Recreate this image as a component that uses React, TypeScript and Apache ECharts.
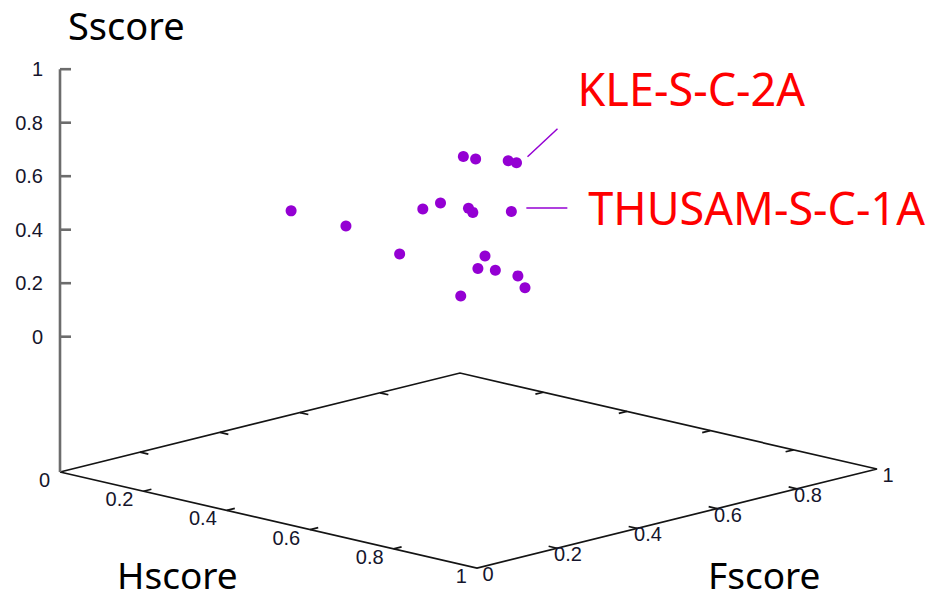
import React, { useEffect, useRef } from "react";
import * as echarts from "echarts";

// ---- data (3D: Hscore, Fscore, Sscore) ----
const POINT_H = [0.30, 0.35, 0.45, 0.40, 0.50, 0.55, 0.45, 0.50, 0.52, 0.60, 0.50, 0.55, 0.60, 0.70, 0.55, 0.70, 0.60, 0.75];
const POINT_F = [0.265, 0.35, 0.38, 0.49, 0.43, 0.435, 0.57, 0.50, 0.49, 0.495, 0.62, 0.555, 0.437, 0.315, 0.515, 0.415, 0.537, 0.22];
const POINT_S = [0.48, 0.41, 0.33, 0.44, 0.52, 0.71, 0.615, 0.475, 0.47, 0.69, 0.60, 0.46, 0.355, 0.39, 0.255, 0.325, 0.20, 0.34];
const TICKS = [0, 0.2, 0.4, 0.6, 0.8, 1];
const TICK_LABELS = ["0", "0.2", "0.4", "0.6", "0.8", "1"];
const AXIS_TITLES = ["Hscore", "Fscore", "Sscore"];
const LABELLED_INDEX = [10, 11];
const LABELLED_NAME = ["KLE-S-C-2A", "THUSAM-S-C-1A"];

// ---- view / layout ----
const VIEW = { hx: 0.5104, fx: 0.4896, hy: -0.3589, fy: 0.3701, base: -0.5058 };
const ANNOT_LAYOUT = [
  { line: [11, -6, 41, -34], text: [61, -74] },
  { line: [15, -3.5, 56, -3.5], text: [77, -4.5] },
];
const POINT_COLOR = "#9400D3";
const TICK_FONT = "Liberation Sans, Arial, sans-serif";
const TICK_COLOR = "#15152c";

const project = (h: number, f: number, s: number) => [
  VIEW.hx * h + VIEW.fx * f,
  s + VIEW.hy * h + VIEW.fy * f,
];

export default function App() {
  const ref = useRef<HTMLDivElement>(null);
  useEffect(() => {
    const chart = echarts.init(ref.current!, null, { renderer: "svg" });
    const points = POINT_H.map((h, i) => project(h, POINT_F[i], POINT_S[i]));
    const annotData = LABELLED_INDEX.map((idx, k) => [points[idx][0], points[idx][1], k]);

    const tickText = (x: number, y: number, text: string, align: string) => ({
      type: "text",
      x,
      y,
      style: {
        text,
        fill: TICK_COLOR,
        fontSize: 20,
        fontFamily: TICK_FONT,
        align,
        verticalAlign: "middle",
      },
    });

    const frameRender = (params: any, api: any) => {
      const P = (h: number, f: number, s: number) => api.coord(project(h, f, s));
      const B = VIEW.base;
      const a = P(0, 0, B), b = P(1, 0, B), c = P(1, 1, B), d = P(0, 1, B);
      const children: any[] = [];
      const black = { stroke: "#141414", lineWidth: 1.7 };
      const gray = { stroke: "#6c6c6c", lineWidth: 2.6 };
      children.push({ type: "polyline", shape: { points: [a, b, c, d, a] }, style: { ...black, fill: null } });
      const zt = P(0, 0, 1);
      children.push({ type: "line", shape: { x1: a[0], y1: a[1], x2: zt[0], y2: zt[1] }, style: gray });
      TICKS.forEach((t, i) => {
        // z axis
        const pz = P(0, 0, t);
        children.push({ type: "line", shape: { x1: pz[0], y1: pz[1], x2: pz[0] + 11, y2: pz[1] }, style: gray });
        children.push(tickText(pz[0] - 17, pz[1], TICK_LABELS[i], "right"));
        // H axis
        const ph = P(t, 0, B), qh = P(t, 0.02, B);
        const ph2 = P(t, 1, B), qh2 = P(t, 0.98, B);
        if (t > 0 && t < 1) {
          children.push({ type: "line", shape: { x1: ph[0], y1: ph[1], x2: qh[0], y2: qh[1] }, style: black });
          children.push({ type: "line", shape: { x1: ph2[0], y1: ph2[1], x2: qh2[0], y2: qh2[1] }, style: black });
        }
        children.push(tickText(ph[0] - 10, ph[1] + 8, TICK_LABELS[i], "right"));
        // F axis
        const pf = P(1, t, B), qf = P(0.98, t, B);
        const pf2 = P(0, t, B), qf2 = P(0.02, t, B);
        if (t > 0 && t < 1) {
          children.push({ type: "line", shape: { x1: pf[0], y1: pf[1], x2: qf[0], y2: qf[1] }, style: black });
          children.push({ type: "line", shape: { x1: pf2[0], y1: pf2[1], x2: qf2[0], y2: qf2[1] }, style: black });
        }
        children.push(tickText(pf[0] + 11, pf[1] + 6, TICK_LABELS[i], "center"));
      });
      return { type: "group", children };
    };

    const annotRender = (params: any, api: any) => {
      const k = api.value(2);
      const p = api.coord([api.value(0), api.value(1)]);
      const L = ANNOT_LAYOUT[k];
      return {
        type: "group",
        children: [
          {
            type: "line",
            shape: { x1: p[0] + L.line[0], y1: p[1] + L.line[1], x2: p[0] + L.line[2], y2: p[1] + L.line[3] },
            style: { stroke: POINT_COLOR, lineWidth: 1.5 },
          },
          {
            type: "text",
            x: p[0] + L.text[0],
            y: p[1] + L.text[1],
            style: {
              text: LABELLED_NAME[k],
              fill: "#FF0000",
              fontSize: 45,
              fontFamily: "Noto Sans",
              align: "left",
              verticalAlign: "middle",
            },
          },
        ],
      };
    };

    const titleStyle = { fill: "#000", fontSize: 37, fontFamily: "Noto Sans", align: "left", verticalAlign: "middle" };
    const option: any = {
      animation: false,
      backgroundColor: "#ffffff",
      grid: { left: 60, top: 69.2, width: 817, height: 267.5 },
      xAxis: { type: "value", min: 0, max: 1, show: false },
      yAxis: { type: "value", min: 0, max: 1, show: false },
      graphic: [
        { type: "text", x: 68, y: 24.5, style: { ...titleStyle, fontSize: 38, text: AXIS_TITLES[2] } },
        { type: "text", x: 117, y: 574, style: { ...titleStyle, text: AXIS_TITLES[0] } },
        { type: "text", x: 708, y: 574, style: { ...titleStyle, text: AXIS_TITLES[1] } },
      ],
      series: [
        { type: "custom", renderItem: frameRender, data: [[0, 0]], clip: false, silent: true, z: 1 },
        {
          type: "scatter",
          data: points,
          symbol: "circle",
          symbolSize: 11,
          itemStyle: { color: POINT_COLOR, opacity: 1 },
          clip: false,
          z: 3,
        },
        { type: "custom", renderItem: annotRender, data: annotData, clip: false, silent: true, z: 2 },
      ],
    };
    chart.setOption(option);
    return () => chart.dispose();
  }, []);
  return (
    <div
      ref={ref}
      style={{ position: "fixed", left: 0, top: 0, width: 947, height: 599, background: "#fff" }}
    />
  );
}
